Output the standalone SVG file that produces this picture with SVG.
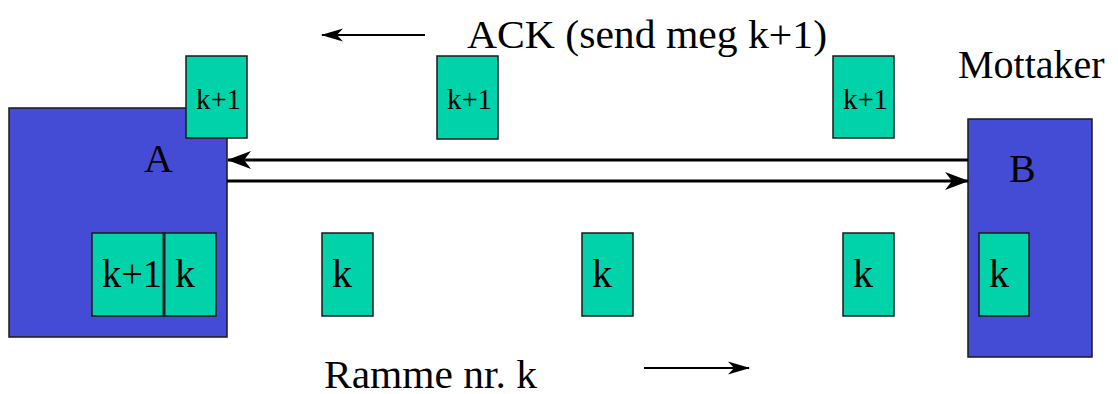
<svg xmlns="http://www.w3.org/2000/svg" width="1118" height="394" viewBox="0 0 1118 394">
  <style>
    .station { fill: #444cd6; stroke: #1a1a1a; stroke-width: 1.5; }
    .frame { fill: #00d2aa; stroke: #1a1a1a; stroke-width: 1.5; }
    .t { font-family: 'Liberation Serif', 'Tinos', 'DejaVu Serif', serif; fill: #000; }
    .big { font-size: 40px; }
    .small { font-size: 29px; }
    .link { stroke: #000; stroke-width: 3; fill: none; }
    .thin { stroke: #000; stroke-width: 1.8; fill: none; }
  </style>
  <defs>
    <marker id="head" markerUnits="userSpaceOnUse" viewBox="0 0 24 20" refX="23" refY="10" markerWidth="24" markerHeight="20" orient="auto">
      <path d="M0,1 L24,10 L0,19 L7,10 Z" fill="#000"/>
    </marker>
    <marker id="headSmall" markerUnits="userSpaceOnUse" viewBox="0 0 22 14" refX="21" refY="7" markerWidth="22" markerHeight="14" orient="auto">
      <path d="M0,0.5 L22,7 L0,13.5 L6,7 Z" fill="#000"/>
    </marker>
  </defs>

  <!-- Sender station A with its send buffer -->
  <g id="station-a">
    <rect class="station" x="9" y="108" width="218" height="229"/>
    <text class="t big" font-family="Liberation Serif, serif" x="144" y="172">A</text>
    <rect class="frame" x="92" y="233" width="72" height="83"/>
    <text class="t big" font-family="Liberation Serif, serif" x="102" y="287" textLength="60" lengthAdjust="spacingAndGlyphs">k+1</text>
    <rect class="frame" x="164" y="233" width="52" height="83"/>
    <text class="t big" font-family="Liberation Serif, serif" x="175" y="287">k</text>
    <line x1="164" y1="233" x2="164" y2="316" stroke="#1a1a1a" stroke-width="3"/>
  </g>

  <!-- Receiver station B -->
  <g id="station-b">
    <rect class="station" x="968" y="119" width="124" height="238"/>
    <text class="t big" font-family="Liberation Serif, serif" x="1009" y="182">B</text>
    <rect class="frame" x="979" y="233" width="50" height="83"/>
    <text class="t big" font-family="Liberation Serif, serif" x="989" y="287">k</text>
  </g>
  <text id="label-mottaker" class="t big" font-family="Liberation Serif, serif" x="958" y="78">Mottaker</text>

  <!-- Acknowledgements travelling back to A -->
  <g id="ack-1">
    <rect class="frame" x="186" y="56" width="61" height="82"/>
    <text class="t small" font-family="Liberation Serif, serif" x="196" y="109" textLength="45" lengthAdjust="spacingAndGlyphs">k+1</text>
  </g>
  <g id="ack-2">
    <rect class="frame" x="437" y="56" width="61" height="83"/>
    <text class="t small" font-family="Liberation Serif, serif" x="447" y="109" textLength="45" lengthAdjust="spacingAndGlyphs">k+1</text>
  </g>
  <g id="ack-3">
    <rect class="frame" x="833" y="56" width="61" height="82"/>
    <text class="t small" font-family="Liberation Serif, serif" x="843" y="109" textLength="45" lengthAdjust="spacingAndGlyphs">k+1</text>
  </g>

  <!-- Data frames travelling to B -->
  <g id="frame-1">
    <rect class="frame" x="322" y="233" width="51" height="83"/>
    <text class="t big" font-family="Liberation Serif, serif" x="332" y="287">k</text>
  </g>
  <g id="frame-2">
    <rect class="frame" x="582" y="233" width="51" height="83"/>
    <text class="t big" font-family="Liberation Serif, serif" x="592" y="287">k</text>
  </g>
  <g id="frame-3">
    <rect class="frame" x="843" y="233" width="51" height="83"/>
    <text class="t big" font-family="Liberation Serif, serif" x="853" y="287">k</text>
  </g>

  <!-- Labels -->
  <text id="label-ack" class="t big" font-family="Liberation Serif, serif" x="467" y="48" textLength="360" lengthAdjust="spacingAndGlyphs">ACK (send meg k+1)</text>
  <text id="label-frame" class="t big" font-family="Liberation Serif, serif" x="324" y="388" textLength="213" lengthAdjust="spacingAndGlyphs">Ramme nr. k</text>

  <!-- Connectors -->
  <g id="connectors">
    <line class="link" x1="968" y1="160" x2="228" y2="160" marker-end="url(#head)"/>
    <line class="link" x1="227" y1="181" x2="968" y2="181" marker-end="url(#head)"/>
    <line class="thin" x1="425" y1="35" x2="322" y2="35" marker-end="url(#headSmall)"/>
    <line class="thin" x1="644" y1="368" x2="749" y2="368" marker-end="url(#headSmall)"/>
  </g>
</svg>
